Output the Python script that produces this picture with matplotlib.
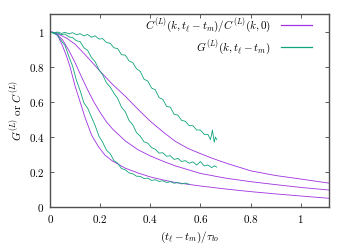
#Grafica de las funciones de correlacion C^(L) normalizada y G^(L) contra el tiempo
import numpy as np
import matplotlib
matplotlib.use("Agg")
import matplotlib.pyplot as plt
from matplotlib.ticker import FuncFormatter

plt.rcParams['mathtext.fontset'] = 'cm'
plt.rcParams['font.family'] = 'serif'
plt.rcParams['font.serif'] = ['DejaVu Serif']

#Curvas suaves C^(L)(k,t)/C^(L)(k,0), una por cada k
c1_x = [0, 0.008, 0.015, 0.025, 0.033, 0.05, 0.065, 0.08, 0.1, 0.12, 0.14, 0.166, 0.193, 0.22, 0.25,
        0.3, 0.35, 0.4, 0.45, 0.5, 0.6, 0.7, 0.8, 0.9, 1.0, 1.12]
c1_y = [1, 0.999, 0.995, 0.986, 0.973, 0.92, 0.865, 0.80, 0.69, 0.60, 0.51, 0.41, 0.345, 0.295, 0.262,
        0.222, 0.195, 0.172, 0.155, 0.14, 0.12, 0.103, 0.088, 0.075, 0.063, 0.049]

c2_x = [0, 0.012, 0.025, 0.05, 0.075, 0.1, 0.125, 0.15, 0.175, 0.2, 0.225, 0.25, 0.3, 0.35, 0.4, 0.45,
        0.5, 0.6, 0.7, 0.8, 0.9, 1.0, 1.12]
c2_y = [1, 0.998, 0.99, 0.955, 0.895, 0.825, 0.745, 0.67, 0.60, 0.54, 0.487, 0.445, 0.378, 0.328, 0.292,
        0.262, 0.235, 0.192, 0.165, 0.145, 0.128, 0.112, 0.096]

c3_x = [0, 0.015, 0.03, 0.067, 0.1, 0.15, 0.2, 0.25, 0.3, 0.35, 0.4, 0.45, 0.5, 0.55, 0.6, 0.65, 0.7,
        0.8, 0.9, 1.0, 1.12]
c3_y = [1, 0.998, 0.99, 0.964, 0.93, 0.855, 0.775, 0.70, 0.633, 0.56, 0.49, 0.43, 0.375, 0.335, 0.305,
        0.277, 0.252, 0.207, 0.18, 0.16, 0.135]

#Curvas con ruido G^(L)(k,t) (simulacion)
g1_x = [0, 0.015, 0.03, 0.045, 0.06, 0.075, 0.09, 0.105, 0.12, 0.135, 0.15, 0.165, 0.18, 0.195, 0.21,
        0.225, 0.24, 0.255, 0.27, 0.285, 0.3, 0.315, 0.33, 0.345, 0.36, 0.375, 0.39, 0.405, 0.42, 0.435,
        0.45, 0.465, 0.48, 0.495, 0.51, 0.525, 0.54, 0.555]
g1_y = [1, 0.992, 0.982, 0.95, 0.922, 0.86, 0.805, 0.725, 0.665, 0.595, 0.565, 0.515, 0.465, 0.405,
        0.37, 0.325, 0.305, 0.265, 0.25, 0.22, 0.213, 0.195, 0.19, 0.176, 0.175, 0.163, 0.165, 0.152,
        0.156, 0.146, 0.15, 0.14, 0.145, 0.136, 0.14, 0.132, 0.137, 0.13]

g2_x = [0, 0.015, 0.03, 0.045, 0.06, 0.075, 0.09, 0.105, 0.12, 0.135, 0.15, 0.165, 0.18, 0.195, 0.21,
        0.225, 0.24, 0.255, 0.27, 0.285, 0.3, 0.315, 0.33, 0.345, 0.36, 0.375, 0.39, 0.405, 0.42, 0.435,
        0.45, 0.465, 0.48, 0.495, 0.51, 0.525, 0.54, 0.555, 0.57, 0.585, 0.6, 0.615, 0.63, 0.645, 0.655,
        0.665]
g2_y = [1, 0.995, 0.995, 0.985, 0.988, 0.972, 0.968, 0.95, 0.945, 0.91, 0.895, 0.855, 0.83, 0.785,
        0.755, 0.71, 0.685, 0.65, 0.62, 0.57, 0.545, 0.495, 0.47, 0.425, 0.405, 0.372, 0.365, 0.34,
        0.33, 0.308, 0.31, 0.29, 0.293, 0.272, 0.278, 0.26, 0.265, 0.25, 0.258, 0.24, 0.26, 0.235, 0.24,
        0.225, 0.235, 0.228]

g3_x = [0, 0.015, 0.03, 0.045, 0.06, 0.075, 0.09, 0.105, 0.12, 0.135, 0.15, 0.165, 0.18, 0.195, 0.21,
        0.225, 0.24, 0.255, 0.27, 0.285, 0.3, 0.315, 0.33, 0.345, 0.36, 0.375, 0.39, 0.405, 0.42, 0.435,
        0.45, 0.465, 0.48, 0.495, 0.51, 0.525, 0.54, 0.555, 0.57, 0.585, 0.6, 0.615, 0.63, 0.64, 0.648,
        0.655, 0.66, 0.665]
g3_y = [1, 0.995, 1.0, 0.992, 0.998, 0.99, 0.996, 0.985, 0.99, 0.978, 0.986, 0.97, 0.978, 0.96,
        0.962, 0.94, 0.935, 0.91, 0.905, 0.87, 0.868, 0.835, 0.825, 0.79, 0.775, 0.73, 0.72, 0.68,
        0.67, 0.625, 0.615, 0.575, 0.57, 0.53, 0.525, 0.495, 0.49, 0.465, 0.465, 0.44, 0.44, 0.415,
        0.415, 0.385, 0.44, 0.37, 0.4, 0.385]

etiqueta_c = r'$C^{(L)}(k,t_\ell-t_m)/C^{(L)}(k,0)$'
etiqueta_g = r'$G^{(L)}(k,t_\ell-t_m)$'

morado = '#a030e0'
verde = '#10a47a'

fig = plt.figure(figsize=(3.5, 2.45), dpi=100)
ax = fig.add_axes([0.143, 0.155, 0.797, 0.788])

ax.plot(c1_x, c1_y, color=morado, lw=0.6, label=etiqueta_c)
ax.plot(c2_x, c2_y, color=morado, lw=0.6)
ax.plot(c3_x, c3_y, color=morado, lw=0.6)
ax.plot(g1_x, g1_y, color=verde, lw=0.6, label=etiqueta_g)
ax.plot(g2_x, g2_y, color=verde, lw=0.6)
ax.plot(g3_x, g3_y, color=verde, lw=0.6)

ax.set_xlim(0, 1.113)
ax.set_ylim(0, 1.103)
ax.set_xticks([0, 0.2, 0.4, 0.6, 0.8, 1])
ax.set_yticks([0, 0.2, 0.4, 0.6, 0.8, 1])
fmt = FuncFormatter(lambda v, p: r'$%g$' % v)
ax.xaxis.set_major_formatter(fmt)
ax.yaxis.set_major_formatter(fmt)
ax.tick_params(direction='in', top=True, right=True, length=3, width=0.6,
               labelsize=8, color='#404040', pad=4)
for s in ax.spines.values():
    s.set_color('#505050')
    s.set_linewidth(1.0)

ax.set_xlabel(r'$(t_\ell-t_m)/\tau_{to}$', fontsize=8, labelpad=4)
ax.set_ylabel(r'$G^{(L)}\ \mathrm{or}\ C^{(L)}$', fontsize=8, labelpad=3)

leg = ax.legend(loc='upper right', bbox_to_anchor=(0.94, 0.985), frameon=False, markerfirst=False,
                fontsize=8, handlelength=2.8, labelspacing=0.35, borderaxespad=0, borderpad=0,
                handletextpad=0.9)
for h in leg.get_lines():
    h.set_linewidth(0.9)

plt.savefig('out.png', dpi=100)
